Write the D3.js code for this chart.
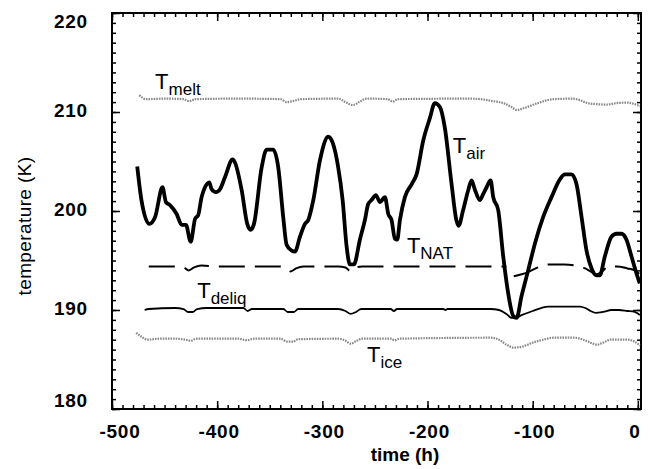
<!DOCTYPE html>
<html>
<head>
<meta charset="utf-8">
<script src="https://cdn.jsdelivr.net/npm/d3@7"></script>
<style>
  html, body { margin: 0; padding: 0; background: #fff; }
  svg { display: block; }
  text { font-family: "Liberation Sans", Arial, Helvetica, sans-serif; fill: #000; }
</style>
</head>
<body>
<svg id="chart" width="653" height="469"></svg>
<script>
// ---- data (time in h, temperature in K) ----
const xTickValues = [-500, -400, -300, -200, -100, 0];
const yTickValues = [180, 190, 200, 210, 220];

const tAir = [[-476,204.5],[-472,201.1],[-464.5,198.7],[-459,199.4],[-452,202.4],[-448.7,200.9],[-444.9,200.6],[-438.5,199.7],[-433.7,198.6],[-429.7,198.6],[-425.2,196.9],[-421,199.2],[-418,199.6],[-414.8,201.4],[-411.6,202.4],[-407.5,202.9],[-405.3,202.2],[-401.1,201.9],[-397.3,202.2],[-392.6,203.4],[-385.3,205.2],[-383.1,204.9],[-376.7,202.1],[-371.4,198.7],[-368.2,198.1],[-365,198.7],[-357.7,204.4],[-353,206.2],[-346.7,206.2],[-341.9,204.4],[-337.2,199.4],[-334,196.6],[-329.2,196.0],[-326,195.9],[-321.3,197.4],[-316.5,198.7],[-313.4,199.1],[-308.6,201.1],[-302.3,205.1],[-294.4,207.5],[-290.2,206.9],[-284.9,204.4],[-280.7,201.1],[-276.9,196.4],[-273.8,194.6],[-270,194.6],[-264.3,197.1],[-259.5,199.1],[-256.4,200.7],[-253.2,201.1],[-249.1,201.6],[-245.2,200.9],[-240.5,201.4],[-237.3,199.7],[-234.2,199.1],[-231,197.2],[-228.8,197.1],[-226.2,199.1],[-221.5,201.4],[-215.1,202.7],[-210.4,203.7],[-204.1,207.1],[-197.7,209.4],[-193,210.9],[-188.2,210.5],[-183.5,208.4],[-177.1,202.7],[-172.4,199.0],[-170.5,198.5],[-166.1,200.1],[-161.3,202.1],[-158.1,203.1],[-155.1,202.2],[-150.2,201.1],[-147.1,201.7],[-143.8,202.4],[-140,203.1],[-137.5,201.4],[-132.8,200.1],[-128,195.4],[-123.3,191.7],[-118.5,189.4],[-115.3,189.2],[-110.6,191.4],[-104.3,194.0],[-97.9,196.7],[-90,199.4],[-82.1,201.4],[-74.1,203.2],[-69.4,203.7],[-63,203.7],[-58.3,202.7],[-53.5,199.4],[-48.8,196.0],[-44,194.2],[-39.3,193.5],[-36.2,193.5],[-31.4,195.4],[-25.1,197.4],[-20.3,197.7],[-15.6,197.7],[-10.8,197.1],[-6,195.4],[-1.3,193.7],[1.8,192.7]];

const tNat = [[-465,194.4],[-440,194.4],[-432,194.3],[-427,194.0],[-422,194.3],[-415,194.5],[-400,194.4],[-370,194.4],[-340,194.4],[-334,194.2],[-330,193.9],[-325,194.2],[-318,194.4],[-285,194.4],[-278,194.3],[-273,193.9],[-268,194.3],[-262,194.4],[-200,194.4],[-150,194.4],[-125,194.4],[-121,null],[-118,193.4],[-105,193.8],[-95,194.3],[-85,194.6],[-70,194.6],[-60,194.5],[-50,194.2],[-45,193.9],[-39,193.6],[-34,193.9],[-28,194.4],[-20,194.4],[-10,194.2],[-3,194.0],[2,193.6]];

const tDeliq = [[-469,190.0],[-465,190.1],[-440,190.2],[-432,190.1],[-428,189.8],[-423,189.8],[-419,190.1],[-410,190.2],[-375,190.2],[-371,189.9],[-367,190.1],[-355,190.1],[-337,190.1],[-333,189.8],[-327,189.8],[-323,190.1],[-285,190.1],[-278,189.9],[-273,189.6],[-268,189.8],[-263,190.1],[-235,190.1],[-232,189.9],[-229,190.1],[-185,190.1],[-183,190.0],[-181,190.1],[-140,190.1],[-132,190.0],[-125,189.6],[-120,189.2],[-117,189.2],[-110,189.5],[-100,189.9],[-92,190.2],[-85,190.35],[-55,190.35],[-50,190.2],[-45,189.9],[-40,189.7],[-33,189.8],[-25,190.0],[-18,190.0],[-10,189.9],[-3,189.8],[2,189.5]];

const tIce = [[-477,187.7],[-472,187.3],[-466,187.0],[-455,187.1],[-440,187.1],[-430,187.0],[-425,186.9],[-420,187.1],[-380,187.1],[-372,186.95],[-365,187.1],[-340,187.1],[-333,186.8],[-328,186.8],[-323,187.05],[-285,187.1],[-278,186.9],[-273,186.6],[-268,186.85],[-262,187.1],[-235,187.1],[-231,186.95],[-227,187.1],[-140,187.2],[-132,187.0],[-125,186.5],[-118,186.2],[-110,186.3],[-100,186.7],[-90,187.0],[-80,187.2],[-60,187.2],[-52,187.0],[-45,186.7],[-39,186.5],[-33,186.7],[-26,187.0],[-10,187.0],[-3,186.8],[2,186.4]];

const tMelt = [[-474,211.7],[-468,211.3],[-450,211.35],[-432,211.3],[-427,211.1],[-420,211.3],[-380,211.35],[-340,211.3],[-334,211.0],[-328,211.1],[-320,211.3],[-285,211.35],[-278,211.0],[-271,210.7],[-265,211.0],[-258,211.35],[-238,211.3],[-233,211.05],[-228,211.3],[-160,211.35],[-150,211.3],[-138,211.1],[-128,210.9],[-120,210.5],[-115,210.2],[-108,210.4],[-95,210.9],[-80,211.3],[-62,211.35],[-55,211.2],[-48,210.9],[-40,210.8],[-30,210.75],[-20,210.9],[-10,210.95],[-3,210.8],[2,210.6]];

// series labels: subscript, anchor (time, temperature)
const seriesLabels = [
  {sub: "melt",  t: -459, T: 212.3},
  {sub: "air",   t: -176, T: 205.9},
  {sub: "NAT",   t: -219.6, T: 195.8},
  {sub: "deliq", t: -419, T: 191.2},
  {sub: "ice",   t: -257.6, T: 184.75}
];

// ---- layout ----
const svg = d3.select("#chart");
const L = 112, R = 641, T0 = 13, B = 409;

const x = d3.scaleLinear().domain([-500, 3]).range([L, R]);
const y = d3.scaleLinear().domain([180, 220]).range([B, T0]);

const xMinor = d3.range(-500, 1, 10);
const yMinor = d3.range(180, 221, 1);

function tickAxis(axisFn, scale, values, size) {
  return axisFn(scale).tickValues(values).tickSize(size).tickFormat("");
}

// minor ticks
svg.append("g").attr("transform", `translate(0,${B})`).call(tickAxis(d3.axisBottom, x, xMinor, -4));
svg.append("g").attr("transform", `translate(0,${T0})`).call(tickAxis(d3.axisTop, x, xMinor, -4));
svg.append("g").attr("transform", `translate(${L},0)`).call(tickAxis(d3.axisLeft, y, yMinor, -4));
svg.append("g").attr("transform", `translate(${R},0)`).call(tickAxis(d3.axisRight, y, yMinor, -4));
// major ticks
svg.append("g").attr("transform", `translate(0,${B})`).call(tickAxis(d3.axisBottom, x, xTickValues, -8));
svg.append("g").attr("transform", `translate(0,${T0})`).call(tickAxis(d3.axisTop, x, xTickValues, -8));
svg.append("g").attr("transform", `translate(${L},0)`).call(tickAxis(d3.axisLeft, y, yTickValues, -8));
svg.append("g").attr("transform", `translate(${R},0)`).call(tickAxis(d3.axisRight, y, yTickValues, -8));

svg.selectAll(".domain").remove();
svg.selectAll(".tick line").attr("stroke", "#000").attr("stroke-width", 1.5);

// frame
svg.append("rect").attr("x", L).attr("y", T0).attr("width", R - L).attr("height", B - T0)
  .attr("fill", "none").attr("stroke", "#000").attr("stroke-width", 2);

// tick labels
const xOff = {"-500": 8, "0": -3};
svg.append("g").selectAll("text").data(xTickValues).join("text")
  .attr("x", d => x(d) + (xOff[d] !== undefined ? xOff[d] : 2))
  .attr("y", 438)
  .attr("text-anchor", "middle")
  .attr("font-size", 19)
  .attr("font-weight", "bold")
  .attr("letter-spacing", 0.8)
  .text(d => d3.format("d")(d).replace("−", "-"));

const yOff = {"220": 15, "180": -2};
svg.append("g").selectAll("text").data(yTickValues).join("text")
  .attr("x", 88)
  .attr("y", d => y(d) + (yOff[d] !== undefined ? yOff[d] : 5))
  .attr("text-anchor", "end")
  .attr("font-size", 19)
  .attr("font-weight", "bold")
  .attr("letter-spacing", 0.8)
  .text(d => d);

// axis titles
svg.append("text").attr("transform", "translate(31,226) rotate(-90)")
  .attr("text-anchor", "middle").attr("font-size", 19).attr("letter-spacing", 0.4)
  .text("temperature (K)");
svg.append("text").attr("x", 405).attr("y", 461)
  .attr("text-anchor", "middle").attr("font-size", 19).attr("font-weight", "bold")
  .text("time (h)");

// lines
const line = d3.line()
  .defined(d => d[1] !== null)
  .x(d => x(d[0])).y(d => y(d[1]))
  .curve(d3.curveMonotoneX);

const plot = svg.append("g");
plot.append("path").datum(tMelt).attr("d", line)
  .attr("fill", "none").attr("stroke", "#8a8a8a").attr("stroke-width", 2.2)
  .attr("stroke-dasharray", "1.6,1");
plot.append("path").datum(tIce).attr("d", line)
  .attr("fill", "none").attr("stroke", "#8a8a8a").attr("stroke-width", 2.2)
  .attr("stroke-dasharray", "1.6,1");
plot.append("path").datum(tDeliq).attr("d", line)
  .attr("fill", "none").attr("stroke", "#000").attr("stroke-width", 1.8);
plot.append("path").datum(tNat).attr("d", line)
  .attr("fill", "none").attr("stroke", "#000").attr("stroke-width", 2)
  .attr("stroke-dasharray", "26,10");
plot.append("path").datum(tAir).attr("d", line)
  .attr("fill", "none").attr("stroke", "#000").attr("stroke-width", 3.8)
  .attr("stroke-linejoin", "round");

// series labels
const lab = svg.append("g").selectAll("text").data(seriesLabels).join("text")
  .attr("x", d => x(d.t)).attr("y", d => y(d.T))
  .attr("font-size", 22);
lab.append("tspan").text("T");
lab.append("tspan").attr("dy", 6).attr("font-size", 17).text(d => d.sub);
</script>
</body>
</html>
